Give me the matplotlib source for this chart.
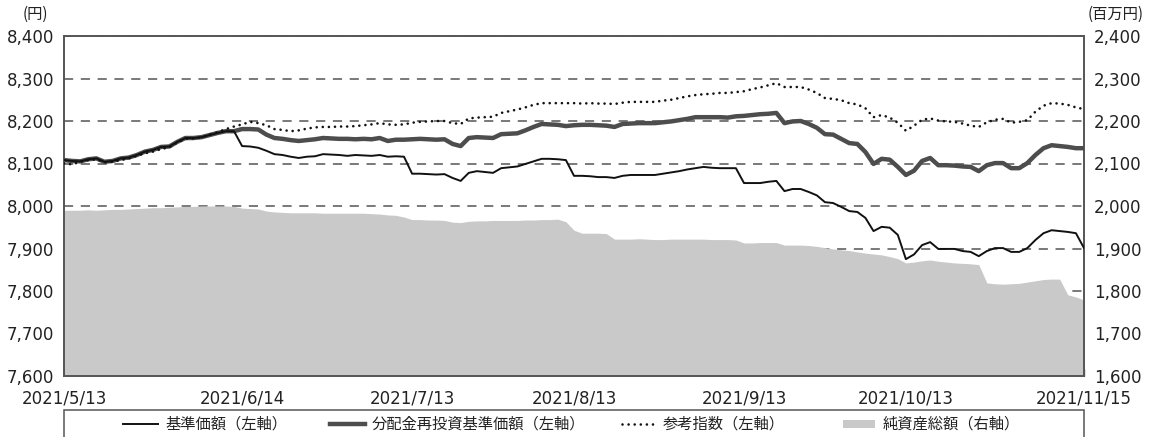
import numpy as np
import pandas as pd
import matplotlib
matplotlib.use("Agg")
import matplotlib.pyplot as plt
from matplotlib.lines import Line2D
from matplotlib.patches import Rectangle

plt.rcParams['font.family'] = ['Noto Sans CJK JP', 'DejaVu Sans']

# ---- data (business days 2021/5/13 - 2021/11/15) ----
holidays = ['2021-07-22', '2021-07-23', '2021-08-09', '2021-09-20', '2021-09-23', '2021-11-03']
dates = pd.bdate_range('2021-05-13', '2021-11-15', freq='C', holidays=holidays)

nav = [8108, 8106, 8105, 8110, 8112, 8104, 8106, 8112, 8114, 8120,
       8128, 8132, 8139, 8140, 8151, 8160, 8160, 8162, 8167, 8172,
       8176, 8176, 8141, 8140, 8137, 8130, 8122, 8120, 8116, 8113,
       8116, 8117, 8122, 8121, 8120, 8118, 8120, 8119, 8118, 8120,
       8116, 8117, 8116, 8076, 8076, 8075, 8074, 8075, 8066, 8059,
       8078, 8082, 8080, 8078, 8089, 8091, 8093, 8099, 8105, 8111,
       8111, 8110, 8108, 8071, 8071, 8070, 8068, 8068, 8066, 8071,
       8073, 8073, 8073, 8073, 8076, 8079, 8082, 8086, 8089, 8092,
       8090, 8089, 8089, 8089, 8054, 8054, 8054, 8057, 8059, 8035,
       8040, 8040, 8033, 8025, 8009, 8007, 7998, 7988, 7986, 7972,
       7941, 7951, 7949, 7932, 7875, 7886, 7908, 7915, 7899, 7899,
       7899, 7894, 7892, 7882, 7894, 7901, 7901, 7892, 7892, 7901,
       7920, 7936, 7943, 7941, 7939, 7936, 7901]

nav_reinv = [8108, 8106, 8105, 8110, 8112, 8104, 8106, 8112, 8114, 8120,
             8128, 8132, 8139, 8140, 8151, 8160, 8160, 8162, 8167, 8172,
             8176, 8176, 8181, 8181, 8180, 8168, 8160, 8158, 8155, 8153,
             8155, 8157, 8160, 8159, 8158, 8158, 8157, 8158, 8157, 8160,
             8153, 8156, 8156, 8157, 8158, 8157, 8156, 8157, 8146, 8141,
             8160, 8162, 8161, 8160, 8169, 8170, 8171, 8178, 8186, 8193,
             8192, 8191, 8188, 8190, 8191, 8191, 8190, 8189, 8186, 8193,
             8194, 8195, 8195, 8195, 8197, 8199, 8202, 8205, 8209, 8209,
             8209, 8209, 8208, 8211, 8212, 8214, 8216, 8217, 8219, 8195,
             8199, 8200, 8193, 8184, 8169, 8168, 8158, 8148, 8146, 8127,
             8099, 8111, 8109, 8092, 8073, 8083, 8106, 8113, 8096, 8096,
             8095, 8093, 8092, 8082, 8096, 8101, 8101, 8089, 8089, 8101,
             8120, 8136, 8143, 8141, 8139, 8136, 8136]

benchmark = [8100, 8098, 8104, 8108, 8110, 8103, 8104, 8108, 8112, 8118,
             8124, 8128, 8134, 8138, 8150, 8158, 8159, 8162, 8168, 8174,
             8181, 8187, 8192, 8198, 8195, 8190, 8181, 8179, 8176, 8178,
             8182, 8185, 8186, 8186, 8187, 8187, 8188, 8190, 8192, 8195,
             8192, 8191, 8192, 8196, 8198, 8199, 8200, 8200, 8195, 8193,
             8206, 8208, 8209, 8210, 8219, 8223, 8227, 8232, 8238, 8242,
             8242, 8242, 8242, 8242, 8241, 8242, 8241, 8241, 8240, 8243,
             8245, 8245, 8245, 8245, 8248, 8250, 8254, 8258, 8261, 8263,
             8264, 8266, 8266, 8268, 8270, 8275, 8279, 8284, 8289, 8280,
             8280, 8280, 8274, 8266, 8254, 8252, 8249, 8242, 8239, 8230,
             8209, 8214, 8208, 8196, 8177, 8189, 8203, 8206, 8201, 8199,
             8198, 8194, 8189, 8186, 8197, 8203, 8205, 8196, 8198, 8202,
             8222, 8236, 8242, 8241, 8238, 8232, 8228]

net_assets = [1990, 1990, 1990, 1991, 1990, 1991, 1992, 1992, 1993, 1994,
              1995, 1996, 1996, 1997, 1998, 1999, 1999, 2000, 2000, 2000,
              2000, 1999, 1995, 1994, 1993, 1988, 1986, 1985, 1984, 1984,
              1984, 1984, 1983, 1983, 1983, 1983, 1983, 1983, 1982, 1981,
              1979, 1978, 1974, 1968, 1968, 1967, 1967, 1966, 1962, 1961,
              1964, 1965, 1965, 1966, 1966, 1966, 1966, 1967, 1967, 1968,
              1968, 1969, 1963, 1943, 1936, 1936, 1936, 1935, 1922, 1922,
              1922, 1923, 1922, 1921, 1921, 1922, 1922, 1922, 1922, 1922,
              1921, 1921, 1921, 1920, 1913, 1913, 1914, 1914, 1914, 1908,
              1908, 1908, 1907, 1905, 1902, 1899, 1897, 1895, 1892, 1889,
              1887, 1885, 1881, 1876, 1866, 1868, 1871, 1873, 1870, 1868,
              1866, 1865, 1864, 1862, 1819, 1817, 1816, 1817, 1818, 1821,
              1824, 1827, 1828, 1828, 1791, 1786, 1779]

tick_dates = ['2021-05-13', '2021-06-14', '2021-07-13', '2021-08-13',
              '2021-09-13', '2021-10-13', '2021-11-15']
tick_labels = ['2021/5/13', '2021/6/14', '2021/7/13', '2021/8/13',
               '2021/9/13', '2021/10/13', '2021/11/15']
left_ticks = [7600, 7700, 7800, 7900, 8000, 8100, 8200, 8300, 8400]
right_ticks = [1600, 1700, 1800, 1900, 2000, 2100, 2200, 2300, 2400]

labels = ['基準価額（左軸）', '分配金再投資基準価額（左軸）', '参考指数（左軸）', '純資産総額（右軸）']

# ---- styles ----
C_NAV = '#111111'
C_REINV = '#4d4d4d'
C_BENCH = '#111111'
C_AREA = '#c9c9c9'
C_AX = '#555555'
C_TXT = '#222222'
DOT = (0, (0.01, 2.3))
TICK_FONT = ['DejaVu Sans']

# ---- figure ----
W, H = 1163, 437
fig = plt.figure(figsize=(W / 100, H / 100), dpi=100)
L, R, T, B = 64, 1084, 36, 376
ax2 = fig.add_axes([L / W, 1 - B / H, (R - L) / W, (B - T) / H])
ax = ax2.twinx()
ax.set_zorder(ax2.get_zorder() + 1)
ax.patch.set_visible(False)

x = np.arange(len(dates))
date_index = {d.strftime('%Y-%m-%d'): i for i, d in enumerate(dates)}

# right axis: net assets area + grid
ax2.fill_between(x, right_ticks[0], net_assets, color=C_AREA, lw=0, zorder=2)
ax2.set_ylim(1600, 2400)
ax2.set_yticks(right_ticks)
ax2.set_yticklabels([f'{v:,}' for v in right_ticks], family=TICK_FONT)
ax2.yaxis.tick_right()
ax2.grid(axis='y', color=C_AX, lw=1.1, linestyle=(0, (6, 5)), zorder=1)
ax2.set_axisbelow(True)

# left axis lines
ax.yaxis.tick_left()
ax.plot(x, nav_reinv, color=C_REINV, lw=3.2, zorder=3, solid_joinstyle='round')
ax.plot(x, benchmark, color=C_BENCH, lw=1.9, linestyle=DOT,
        dash_capstyle='round', zorder=4)
ax.plot(x, nav, color=C_NAV, lw=1.4, zorder=5)
ax.set_ylim(7600, 8400)
ax.set_yticks(left_ticks)
ax.set_yticklabels([f'{v:,}' for v in left_ticks], family=TICK_FONT)

ax2.set_xlim(0, len(dates) - 1)
ax2.set_xticks([date_index[d] for d in tick_dates])
ax2.set_xticklabels(tick_labels, family=TICK_FONT)

for a in (ax, ax2):
    for s in a.spines.values():
        s.set_color(C_AX)
        s.set_linewidth(1.2)
    a.tick_params(axis='y', length=0, labelsize=12, colors=C_TXT, pad=7)
ax2.tick_params(axis='x', direction='in', length=5, width=1, color=C_AX,
                labelsize=12, labelcolor=C_TXT, pad=10)
ax.tick_params(axis='y', labelleft=True, labelright=False)
ax2.tick_params(axis='y', labelleft=False, labelright=True)

fig.text(35 / W, 1 - 14 / H, '(円)', ha='center', va='center', fontsize=11, color=C_TXT)
fig.text(1116 / W, 1 - 14 / H, '(百万円)', ha='center', va='center', fontsize=11, color=C_TXT)

# legend box (bottom cut by figure edge) with manually placed entries
fig.patches.append(Rectangle((L / W, -0.05), (R - L) / W, 1 - 410 / H + 0.05,
                             transform=fig.transFigure, fill=False,
                             edgecolor=C_AX, lw=1.1))
ly = 1 - 424 / H
samples = [(123, 158, dict(color=C_NAV, lw=1.4)),
           (330, 365, dict(color=C_REINV, lw=3.2)),
           (622, 657, dict(color=C_BENCH, lw=1.9, linestyle=DOT, dash_capstyle='round')),
           (843, 875, None)]
text_x = [165, 372, 663, 883]
for (x0, x1, style), tx, lab in zip(samples, text_x, labels):
    if style is None:
        fig.patches.append(Rectangle((x0 / W, ly - 4 / H), (x1 - x0) / W, 8 / H,
                                     transform=fig.transFigure, facecolor=C_AREA,
                                     edgecolor='none'))
    else:
        fig.add_artist(Line2D([x0 / W, x1 / W], [ly, ly], transform=fig.transFigure, **style))
    fig.text(tx / W, ly, lab, ha='left', va='center', fontsize=11, color=C_TXT)

fig.savefig('out.png', dpi=100)
